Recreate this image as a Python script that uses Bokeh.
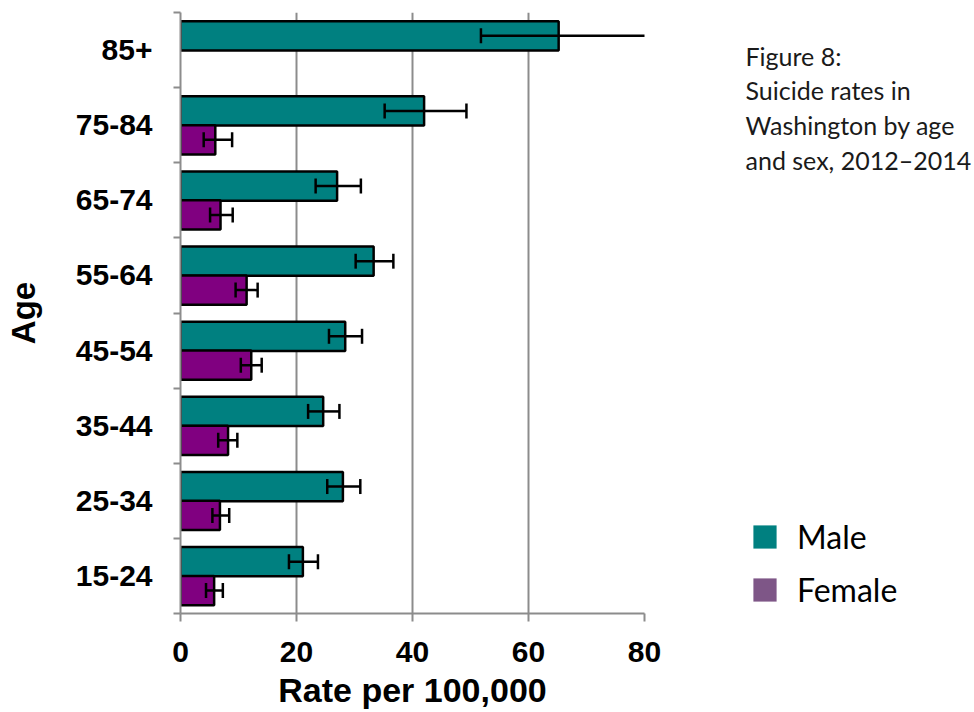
import math
from bokeh.plotting import figure
from bokeh.layouts import row
from bokeh.models import (ColumnDataSource, Range1d, FixedTicker, Label, Legend, LegendItem)
from bokeh.transform import dodge
from bokeh.embed import file_html
from bokeh.resources import INLINE

# ---- data ----
ages = ["85+", "75-84", "65-74", "55-64", "45-54", "35-44", "25-34", "15-24"]
male = [65.2, 42.0, 27.0, 33.3, 28.4, 24.6, 28.0, 21.1]
male_lo = [51.8, 35.2, 23.3, 30.2, 25.6, 22.0, 25.3, 18.7]
male_hi = [84.0, 49.3, 31.1, 36.7, 31.3, 27.4, 31.0, 23.7]
female = [float("nan"), 6.0, 6.9, 11.4, 12.2, 8.2, 6.8, 5.8]
female_lo = [float("nan"), 4.0, 5.1, 9.5, 10.4, 6.5, 5.5, 4.4]
female_hi = [float("nan"), 8.9, 9.0, 13.3, 14.0, 9.8, 8.4, 7.3]
x_ticks = [0, 20, 40, 60, 80]
series = ["Male", "Female"]
caption = ["Figure 8:", "Suicide rates in", "Washington by age", "and sex, 2012\u20132014"]

MALE_COLOR = "#008080"
FEMALE_COLOR = "#800080"
FEMALE_LEGEND = "#7E5687"
GRID = "#8c8c8c"
FONT = "Liberation Sans"
CAP_FONT = "Lato"

n = len(ages)
centers = [n - i - 0.5 for i in range(n)]  # category slot centres on the numeric y scale
bounds = list(range(n + 1))

m_src = ColumnDataSource(dict(y=centers, v=male, lo=male_lo, hi=male_hi))
f_idx = [i for i in range(n) if not math.isnan(female[i])]
f_src = ColumnDataSource(dict(y=[centers[i] for i in f_idx], v=[female[i] for i in f_idx],
                              lo=[female_lo[i] for i in f_idx], hi=[female_hi[i] for i in f_idx]))

p = figure(width=664, height=712, output_backend="svg", toolbar_location=None,
           x_range=Range1d(0, 80), y_range=Range1d(0, n),
           min_border_left=180, min_border_right=20, min_border_top=12, min_border_bottom=99)
p.outline_line_color = None
p.background_fill_color = "white"
p.border_fill_color = "white"

# grid
p.ygrid.grid_line_color = None
p.xgrid.ticker = FixedTicker(ticks=x_ticks)
p.xgrid.grid_line_color = GRID
p.xgrid.grid_line_width = 2

MOFF = 0.19
FOFF = -0.195
BH = 0.39

p.hbar(y=dodge("y", MOFF, range=p.y_range), right="v", left=0, height=BH, source=m_src,
       fill_color=MALE_COLOR, line_color="black", line_width=2.5)
p.hbar(y=dodge("y", FOFF, range=p.y_range), right="v", left=0, height=BH, source=f_src,
       fill_color=FEMALE_COLOR, line_color="black", line_width=2.5)

for src, off in ((m_src, MOFF), (f_src, FOFF)):
    yy = dodge("y", off, range=p.y_range)
    p.segment(x0="lo", x1="hi", y0=yy, y1=yy, source=src, line_color="black", line_width=2.5)
    p.scatter(x="lo", y=yy, source=src, marker="dash", angle=math.pi / 2, size=15,
              line_color="black", line_width=2.5)
    p.scatter(x="hi", y=yy, source=src, marker="dash", angle=math.pi / 2, size=15,
              line_color="black", line_width=2.5)

# x axis
xa = p.xaxis[0]
xa.ticker = FixedTicker(ticks=x_ticks)
xa.axis_line_color = GRID
xa.axis_line_width = 2
xa.major_tick_line_color = GRID
xa.major_tick_line_width = 2
xa.major_tick_out = 8
xa.major_tick_in = 0
xa.minor_tick_line_color = None
xa.major_label_text_font = FONT
xa.major_label_text_font_style = "bold"
xa.major_label_text_font_size = "30px"
xa.major_label_text_color = "black"
xa.major_label_standoff = 20
xa.axis_label = "Rate per 100,000"
xa.axis_label_text_font = FONT
xa.axis_label_text_font_style = "bold"
xa.axis_label_text_font_size = "34px"
xa.axis_label_text_color = "black"
xa.axis_label_standoff = 6

# y axis
ya = p.yaxis[0]
ya.ticker = FixedTicker(ticks=centers, minor_ticks=bounds)
ya.major_label_overrides = {c: a for c, a in zip(centers, ages)}
ya.axis_line_color = GRID
ya.axis_line_width = 2
ya.major_tick_line_color = None
ya.major_tick_out = 0
ya.major_tick_in = 0
ya.minor_tick_line_color = GRID
ya.minor_tick_line_width = 2
ya.minor_tick_out = 7
ya.minor_tick_in = 0
ya.major_label_text_font = FONT
ya.major_label_text_font_style = "bold"
ya.major_label_text_font_size = "30px"
ya.major_label_text_color = "black"
ya.major_label_standoff = 21
ya.axis_label = "Age"
ya.axis_label_text_font = FONT
ya.axis_label_text_font_style = "bold"
ya.axis_label_text_font_size = "33px"
ya.axis_label_text_color = "black"
ya.axis_label_standoff = 31

# ---- side panel: caption + legend (its frame is aligned with the main frame) ----
q = figure(width=310, height=712, output_backend="svg", toolbar_location=None,
           x_range=Range1d(0, 1), y_range=Range1d(0, 1),
           min_border=0, x_axis_type=None, y_axis_type=None)
q.outline_line_color = None
q.grid.visible = False
q.background_fill_color = "white"
q.border_fill_color = "white"

sw_src = ColumnDataSource(dict(y=[0.5], v=[1.0]))
lm = q.hbar(y="y", right="v", left=0, height=0.1, source=sw_src, visible=False,
            fill_color=MALE_COLOR, line_color=None)
lf = q.hbar(y="y", right="v", left=0, height=0.1, source=sw_src, visible=False,
            fill_color=FEMALE_LEGEND, line_color=None)
legend = Legend(items=[LegendItem(label=series[0], renderers=[lm]),
                       LegendItem(label=series[1], renderers=[lf])],
                location=(86, 4), orientation="vertical",
                glyph_width=29, glyph_height=29, spacing=14, label_standoff=18,
                padding=0, margin=0, border_line_color=None, background_fill_alpha=0,
                label_text_font=CAP_FONT, label_text_font_size="32px", label_text_color="black",
                label_height=29)
q.add_layout(legend, "center")

# caption (screen units are measured from the frame's bottom-left corner)
for i, line in enumerate(caption):
    q.add_layout(Label(x=81, y=558 - i * 34.7, x_units="screen", y_units="screen",
                       text=line, text_font=CAP_FONT, text_font_size="25px",
                       text_color="#1a1a1a", text_baseline="alphabetic"))

layout = row(p, q)
open("out.html", "w").write(file_html(layout, INLINE))
